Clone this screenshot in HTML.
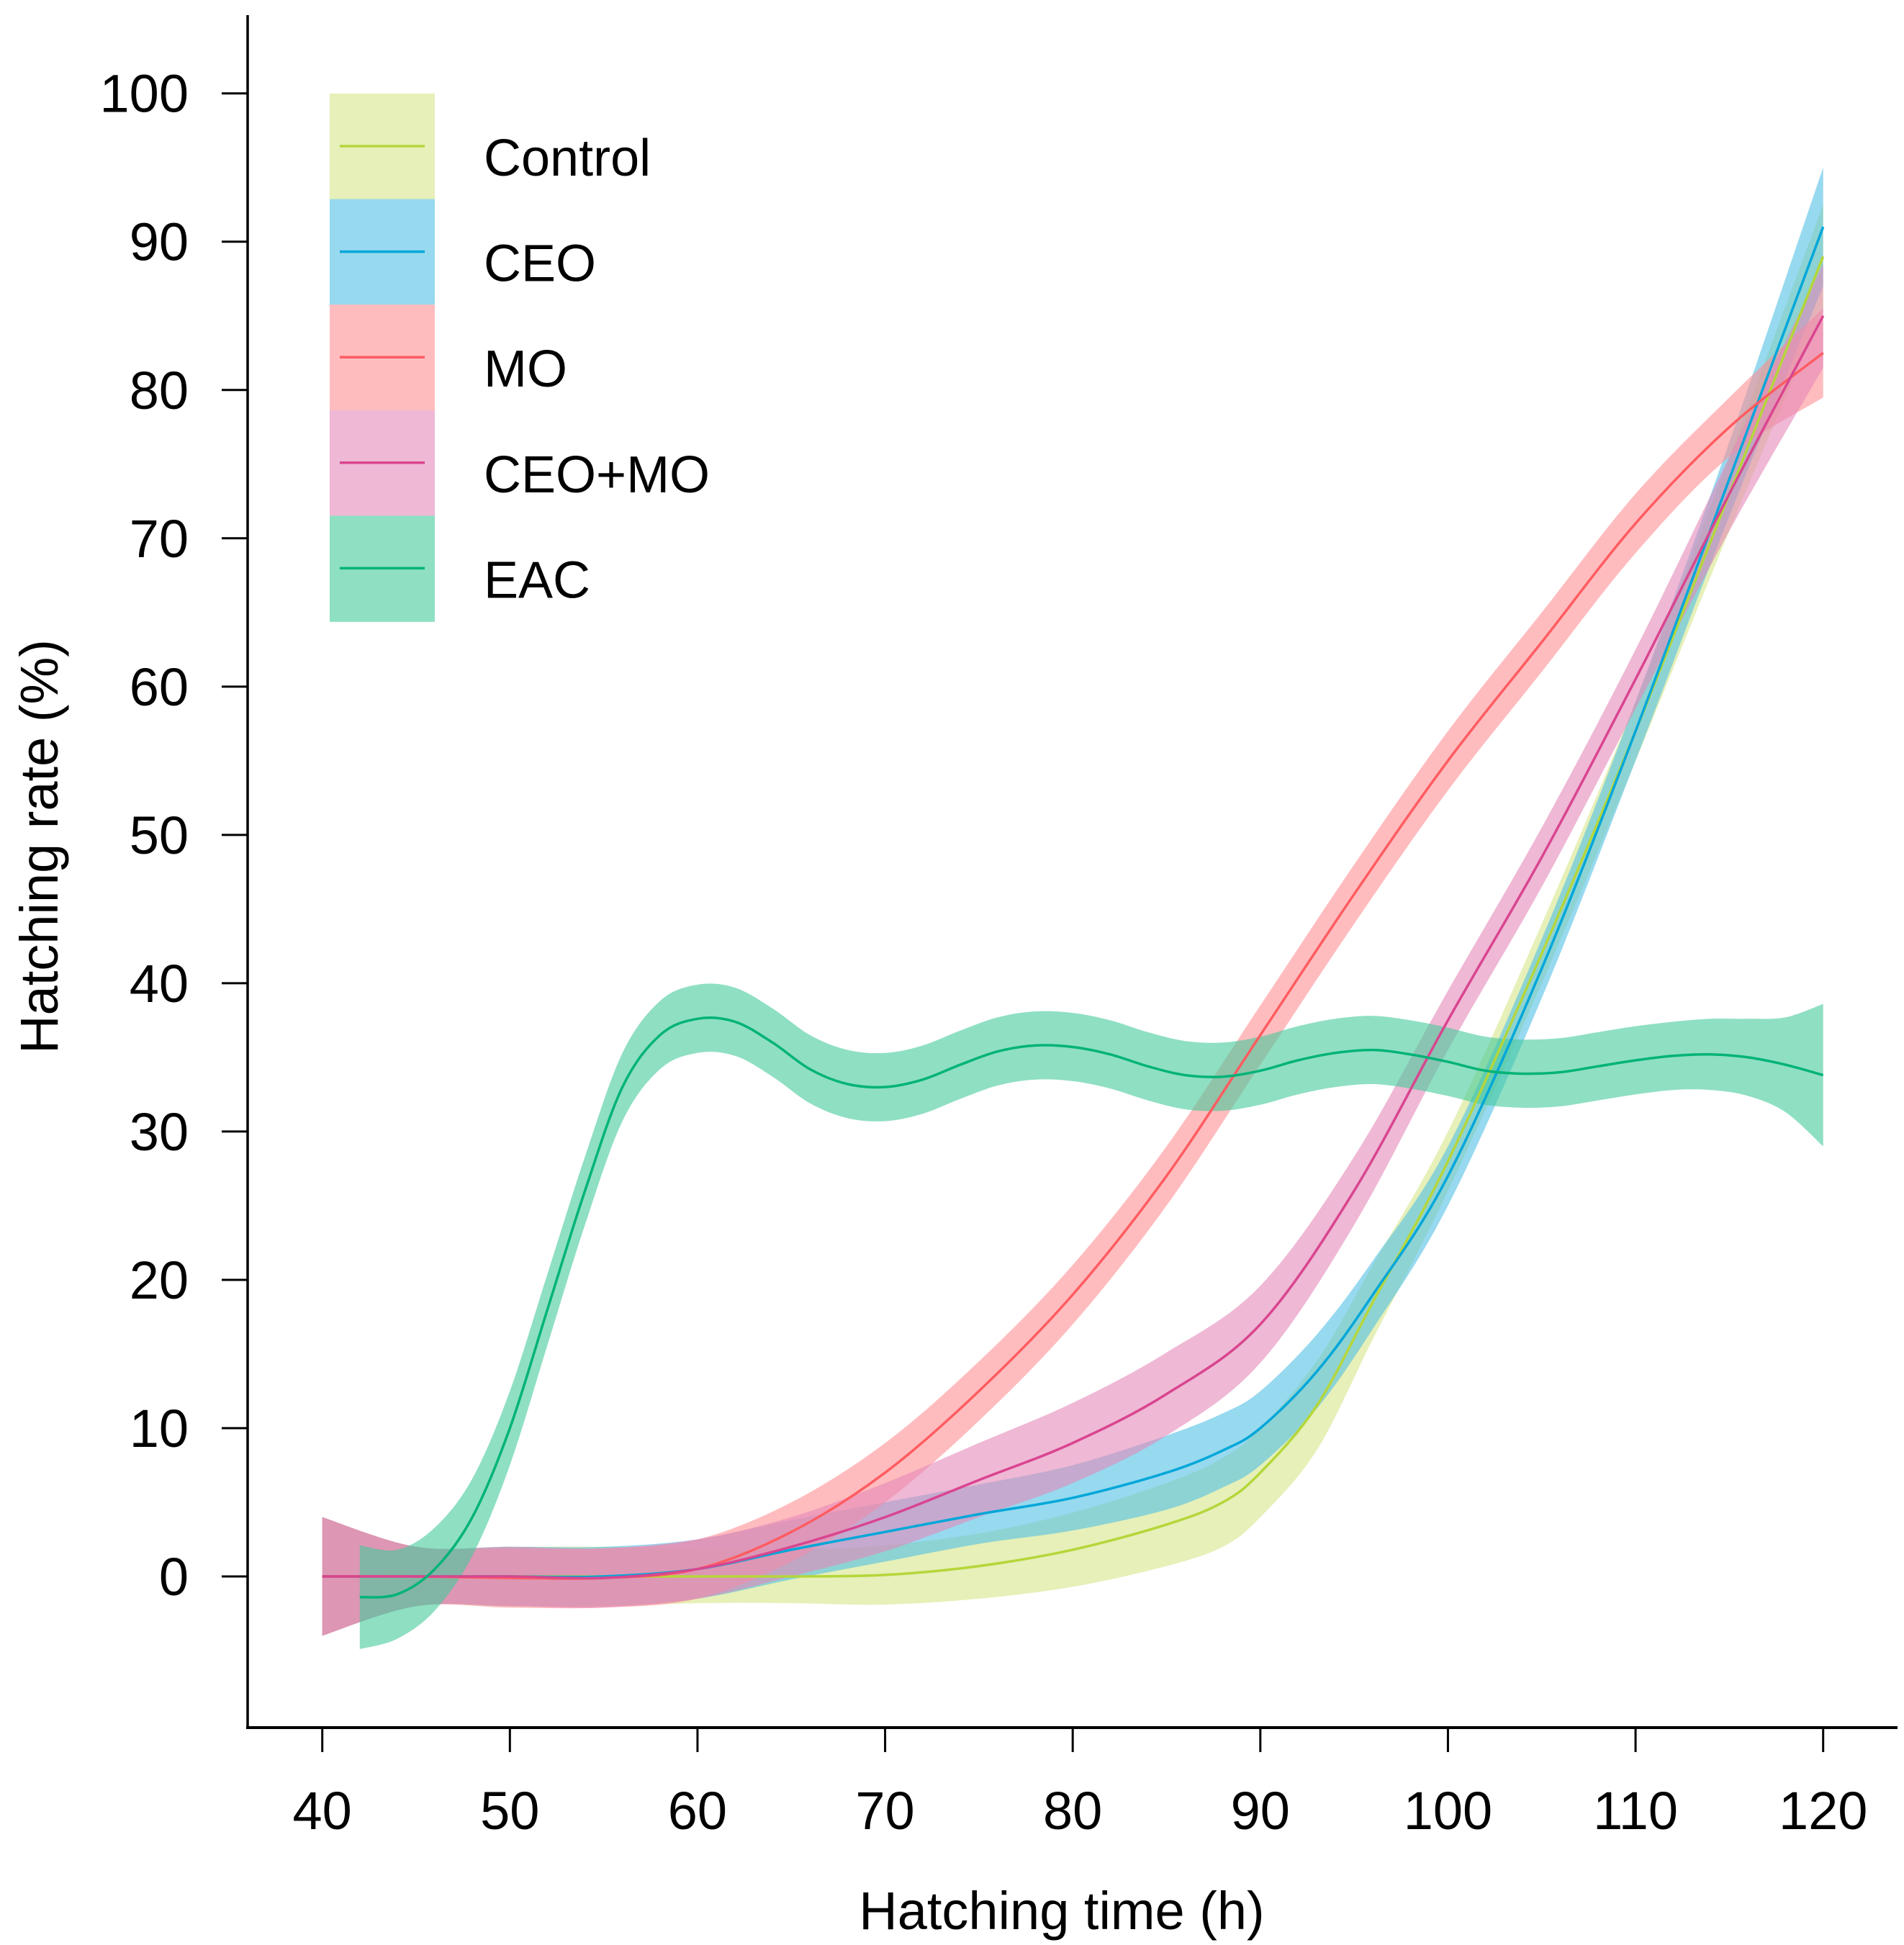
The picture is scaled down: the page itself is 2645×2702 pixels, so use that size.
<!DOCTYPE html>
<html><head><meta charset="utf-8"><style>
html,body{margin:0;padding:0;background:#fff}
svg{display:block}
text{font-family:"Liberation Sans",sans-serif;fill:#000}
</style></head><body>
<svg id="chart" width="2645" height="2702" viewBox="0 0 2645 2702">
<g id="bands"></g>
<g id="lines"></g>
<g id="axes"></g>
<g id="legend"></g>
</svg>
<script>
const xTicks=[40,50,60,70,80,90,100,110,120];
const yTicks=[0,10,20,30,40,50,60,70,80,90,100];
const seriesNames=["Control","CEO","MO","CEO+MO","EAC"];
const ctrlX=[40,45,50,55,60,65,70,75,80,85,88,90,93,96,100,105,110,115,120];
const ctrlY=[0,0,0,0,0,0,0.1,0.7,1.8,3.5,5,7,11.5,18.5,28,42,57,73,89];
const ctrlW=[4,2,2,2,1.8,1.8,2,2.2,2.5,2.8,3,3,3,2.5,2,2,2,2.5,3.5];
const ceoX=[40,45,50,55,60,65,70,75,80,85,88,90,93,96,100,105,110,115,120];
const ceoY=[0,0,0,0,0.5,1.8,3,4.2,5.3,7,8.5,10,13.8,19,27,41,57,74,91];
const ceoW=[4,2,2,2,2,2,2,2,2.2,2.5,2.5,2.5,2.5,2.3,2,2,2,2.5,4];
const moX=[40,45,50,55,60,65,70,75,80,85,90,95,100,105,110,115,120];
const moY=[0,0,-0.1,-0.1,0.5,3,7,12.5,19,27,36.5,46,55,63,71,77.5,82.5];
const moW=[4,2,2,2,2,2,2,2,2,2,2,2,2,2,2,2,3];
const cmX=[40,45,50,55,60,65,70,75,80,85,90,95,100,105,110,115,120];
const cmY=[0,0,0,-0.1,0.5,2,4,6.5,9,12.3,17,26,37.5,48.5,60.5,73,85];
const cmW=[4,2,2,2,2,2,2.3,2.5,2.7,2.8,2.6,2.3,2,2,2,2.5,3.5];
const eacX=[42,44,46,48,50,52,54,56,58,60,62,64,66,68,70,72,74,76,78,80,82,84,86,88,90,92,94,96,98,100,102,104,106,108,110,112,114,116,118,120];
const eacY=[-1.4,-1.2,0.5,4,10,18,26,33,36.5,37.6,37.4,36,34.2,33.2,33,33.5,34.5,35.4,35.8,35.7,35.2,34.4,33.8,33.7,34.1,34.8,35.3,35.5,35.2,34.7,34.1,33.9,34,34.4,34.8,35.1,35.2,35,34.5,33.8];
const eacW=[3.5,3,2.8,2.6,2.5,2.4,2.3,2.3,2.3,2.3,2.3,2.3,2.3,2.3,2.3,2.3,2.3,2.3,2.3,2.3,2.3,2.3,2.3,2.3,2.3,2.3,2.3,2.3,2.3,2.3,2.3,2.3,2.3,2.3,2.3,2.3,2.4,2.6,3.2,4.8];

const NS="http://www.w3.org/2000/svg";
const X0=447.7,X1=2532.7,Y0=2190,Y100=129.7;
function sx(v){return X0+(v-40)*(X1-X0)/80;}
function sy(v){return Y0+(v)*(Y100-Y0)/100;}
function mk(tag,attrs,parent){const e=document.createElementNS(NS,tag);for(const k in attrs)e.setAttribute(k,attrs[k]);parent.appendChild(e);return e;}
function cr(pts,start){let d=start?("M"+pts[0][0].toFixed(1)+","+pts[0][1].toFixed(1)):"";
 for(let i=0;i<pts.length-1;i++){const p0=pts[Math.max(0,i-1)],p1=pts[i],p2=pts[i+1],p3=pts[Math.min(pts.length-1,i+2)];
  const c1=[p1[0]+(p2[0]-p0[0])/6,p1[1]+(p2[1]-p0[1])/6],c2=[p2[0]-(p3[0]-p1[0])/6,p2[1]-(p3[1]-p1[1])/6];
  d+="C"+c1[0].toFixed(1)+","+c1[1].toFixed(1)+" "+c2[0].toFixed(1)+","+c2[1].toFixed(1)+" "+p2[0].toFixed(1)+","+p2[1].toFixed(1);}
 return d;}
const series=[
 {xs:ctrlX,ys:ctrlY,ws:ctrlW,band:"#d5e689",line:"#b5d63a",leg:"#e6f0b8",id:"control"},
 {xs:ceoX,ys:ceoY,ws:ceoW,band:"#52c0e4",line:"#00a7d9",leg:"#97d9ef",id:"ceo"},
 {xs:moX,ys:moY,ws:moW,band:"#ff8f93",line:"#ff5c61",leg:"#ffbcbe",id:"mo"},
 {xs:cmX,ys:cmY,ws:cmW,band:"#e489b9",line:"#d9458f",leg:"#efb8d5",id:"ceo-mo"},
 {xs:eacX,ys:eacY,ws:eacW,band:"#44ca9b",line:"#00b377",leg:"#8fdfc3",id:"eac"}];
const bands=document.getElementById('bands'),lines=document.getElementById('lines');
series.forEach(s=>{
 const up=s.xs.map((x,i)=>[sx(x),sy(s.ys[i]+s.ws[i])]);
 const lo=s.xs.map((x,i)=>[sx(x),sy(s.ys[i]-s.ws[i])]).reverse();
 const d=cr(up,true)+"L"+lo[0][0].toFixed(1)+","+lo[0][1].toFixed(1)+cr(lo,false)+"Z";
 const b=mk('path',{d:d,fill:s.band,'fill-opacity':0.6,stroke:'none'},bands);
 
 
 const l=mk('path',{d:cr(s.xs.map((x,i)=>[sx(x),sy(s.ys[i])]),true),fill:'none',stroke:s.line,'stroke-width':3.5},lines);
 
 
});
const ax=document.getElementById('axes');
let a=mk('line',{x1:344,y1:21,x2:344,y2:2400,stroke:'#000','stroke-width':3.5},ax);


a=mk('line',{x1:342,y1:2400,x2:2636,y2:2400,stroke:'#000','stroke-width':4},ax);


xTicks.forEach(v=>{
 const t=mk('line',{x1:sx(v),y1:2400,x2:sx(v),y2:2434,stroke:'#000','stroke-width':3},ax);
 
 
 const l=mk('text',{x:sx(v),y:2541,'text-anchor':'middle','font-size':74},ax);l.textContent=v;
 
 
});
yTicks.forEach(v=>{
 const t=mk('line',{x1:308,y1:sy(v),x2:344,y2:sy(v),stroke:'#000','stroke-width':3},ax);
 
 
 const l=mk('text',{x:262,y:sy(v)+26,'text-anchor':'end','font-size':74},ax);l.textContent=v;
 
 
});
let tt=mk('text',{x:1475,y:2680,'text-anchor':'middle','font-size':74},ax);tt.textContent="Hatching time (h)";


tt=mk('text',{x:0,y:0,'text-anchor':'middle','font-size':74,transform:'translate(80,1176) rotate(-90)'},ax);tt.textContent="Hatching rate (%)";


const lg=document.getElementById('legend');
series.forEach((s,i)=>{
 const top=130+i*146.6;
 const g=mk('g',{},lg);
 
 
 mk('rect',{x:458,y:top,width:146,height:147.5,fill:s.leg},g);
 mk('line',{x1:472,y1:top+73,x2:590,y2:top+73,stroke:s.line,'stroke-width':3.5},g);
 const t=mk('text',{x:672,y:top+114,'font-size':72},g);t.textContent=seriesNames[i];
});
</script>
</body></html>
